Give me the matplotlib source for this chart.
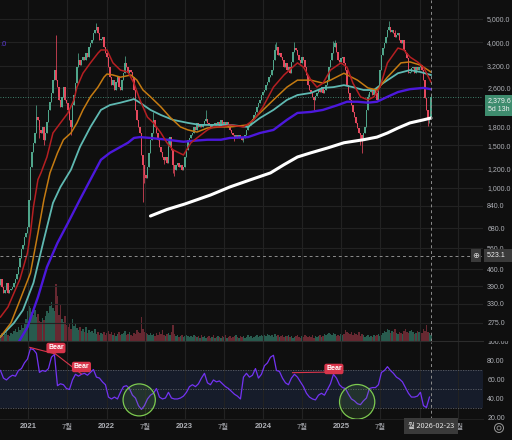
import numpy as np
import pandas as pd
import matplotlib
matplotlib.use("Agg")
import matplotlib.pyplot as plt
from matplotlib.patches import Ellipse
from matplotlib.ticker import FixedLocator, NullLocator, FuncFormatter
from matplotlib.transforms import Bbox, TransformedBbox, blended_transform_factory

plt.rcParams['font.family'] = ['Liberation Sans', 'Noto Sans CJK KR']

# weekly candles, first week 2020-08-24
start = pd.Timestamp('2020-08-24')
first_open = 395
closes = [
    418, 388, 366, 378, 403, 366, 378, 380, 388, 403,
    418, 437, 469, 510, 555, 580, 622, 649, 687, 893,
    1220, 1410, 1535, 1685, 1960, 1910, 1735, 1685, 1785, 1580,
    1685, 1870, 2100, 2270, 2470, 2790, 3070, 2790, 2610, 2310,
    2160, 2380, 2610, 2310, 2250, 2100, 1910, 1785, 2200, 2420,
    2710, 3160, 3380, 3220, 3380, 3480, 3380, 3610, 3480, 3820,
    3970, 4090, 4380, 4510, 4630, 4380, 4090, 4150, 4210, 3820,
    3610, 3480, 3160, 2870, 2660, 2790, 2540, 2740, 2870, 2610,
    2540, 2790, 2980, 3290, 3160, 2980, 3070, 3010, 2870, 2540,
    2100, 1910, 1785, 1685, 1370, 1245, 1132, 1100, 1220, 1395,
    1580, 1685, 1910, 1785, 1685, 1580, 1475, 1410, 1340, 1305,
    1340, 1265, 1475, 1620, 1435, 1245, 1187, 1245, 1265, 1220,
    1245, 1187, 1220, 1340, 1435, 1580, 1600, 1655, 1685, 1785,
    1735, 1855, 1785, 1820, 1785, 1840, 1890, 1930, 1855, 1820,
    1785, 1840, 1820, 1855, 1820, 1870, 1800, 1910, 1840, 1870,
    1800, 1870, 1785, 1735, 1685, 1655, 1620, 1655, 1600, 1655,
    1620, 1580, 1600, 1655, 1735, 1785, 1820, 1870, 1930, 2000,
    2060, 2160, 2250, 2310, 2420, 2500, 2540, 2660, 2740, 2870,
    2930, 3070, 3380, 3720, 3820, 3545, 3610, 3480, 3380, 3160,
    3290, 3070, 3160, 2980, 3320, 3650, 3790, 3720, 3545, 3380,
    3290, 3480, 3380, 3160, 2930, 2660, 2540, 2500, 2380, 2310,
    2400, 2470, 2540, 2500, 2610, 2470, 2540, 2660, 2790, 3160,
    3380, 3610, 3820, 3970, 3650, 3380, 3320, 3450, 3480, 3290,
    3070, 2660, 2470, 2310, 2200, 2060, 1960, 1855, 1770, 1685,
    1655, 1580, 1685, 1785, 2100, 2380, 2500, 2540, 2420, 2540,
    2470, 2310, 2610, 3070, 3545, 3790, 3970, 4210, 4510, 4630,
    4420, 4510, 4380, 4210, 4290, 4380, 4090, 3970, 4090, 3720,
    3610, 3450, 2980, 3010, 3130, 3160, 2980, 3160, 3070, 3160,
    3220, 3070, 2790, 2350, 2100, 1930, 1960, 2379.6,
]
wick_high = {24: 2200, 37: 4290, 52: 3600, 64: 4800, 83: 3520, 102: 2050,
             112: 1600, 137: 2100, 183: 3950, 184: 4000, 196: 4020,
             222: 4050, 223: 4100, 245: 2450, 259: 4900, 263: 4500, 287: 2450}
wick_low = {26: 1600, 29: 1500, 47: 1650, 95: 870, 96: 1050, 109: 1250,
            115: 1150, 116: 1120, 156: 1560, 162: 1540, 209: 2100,
            240: 1500, 241: 1395, 285: 1800, 286: 1850}
volumes = [
    6, 8, 5, 7, 9, 6, 5, 8, 7, 10,
    12, 9, 14, 11, 16, 13, 18, 22, 30, 35,
    33, 29, 26, 31, 24, 27, 20, 19, 23, 21,
    25, 30, 28, 35, 39, 33, 30, 57, 45, 26,
    36, 22, 19, 25, 16, 14, 18, 12, 22, 15,
    17, 13, 11, 14, 10, 12, 9, 14, 8, 11,
    9, 10, 8, 12, 7, 9, 6, 8, 7, 9,
    6, 8, 10, 7, 9, 6, 8, 5, 7, 9,
    6, 7, 8, 10, 6, 7, 9, 6, 5, 8,
    7, 11, 9, 8, 24, 12, 9, 8, 7, 6,
    8, 6, 7, 5, 8, 6, 9, 7, 11, 6,
    5, 7, 8, 6, 9, 16, 7, 5, 6, 4,
    5, 6, 4, 5, 6, 5, 4, 5, 4, 6,
    5, 4, 5, 3, 6, 4, 5, 3, 4, 5,
    3, 4, 6, 3, 4, 5, 4, 3, 5, 4,
    6, 3, 4, 5, 3, 4, 5, 6, 4, 3,
    5, 4, 5, 3, 4, 6, 4, 5, 3, 4,
    5, 6, 4, 5, 6, 5, 6, 5, 7, 6,
    5, 6, 4, 7, 5, 6, 4, 5, 6, 4,
    5, 5, 6, 4, 5, 3, 4, 5, 6, 4,
    3, 5, 4, 6, 5, 4, 5, 4, 6, 3,
    5, 4, 5, 6, 4, 5, 7, 6, 7, 8,
    7, 6, 8, 7, 5, 6, 5, 7, 6, 7,
    11, 9, 8, 7, 9, 6, 8, 7, 6, 9,
    5, 7, 6, 4, 5, 6, 4, 5, 4, 6,
    5, 6, 7, 5, 6, 8, 10, 9, 12, 11,
    8, 10, 9, 12, 8, 7, 9, 8, 7, 10,
    12, 9, 8, 10, 11, 9, 7, 8, 10, 9,
    11, 8, 12, 10, 16, 9, 8, 6,
]

# moving averages (week index, value)
red_idx = [0, 5, 9, 13, 18, 20, 22, 25, 27, 31, 35, 40, 45, 49, 51, 55, 60, 65, 67, 71,
           75, 80, 85, 89, 93, 98, 102, 107, 111, 115, 122, 127, 131, 138, 142, 147, 153,
           162, 169, 175, 182, 189, 198, 202, 207, 211, 215, 220, 227, 231, 235, 240, 245,
           249, 253, 258, 265, 269, 273, 278, 282, 287]
red_val = [291, 320, 366, 418, 536, 649, 832, 1080, 1151, 1340, 1685, 1855, 2040, 2310,
           2610, 2980, 3290, 3610, 3720, 3720, 3290, 3070, 3015, 2710, 2310, 1960, 1855,
           1685, 1535, 1435, 1366, 1535, 1607, 1735, 1785, 1785, 1820, 1785, 1910, 2160,
           2610, 2930, 3290, 3160, 2790, 2610, 2710, 3070, 3290, 3160, 2710, 2380, 2310,
           2380, 2610, 3290, 3790, 3720, 3480, 3320, 3160, 2740]
orange_idx = [0, 7, 13, 20, 25, 29, 33, 38, 42, 47, 51, 55, 60, 65, 69, 71, 75, 80, 87,
              91, 95, 100, 107, 113, 120, 125, 131, 138, 147, 153, 165, 173, 182, 191,
              198, 207, 215, 220, 229, 238, 245, 251, 258, 267, 273, 280, 287]
orange_val = [241, 275, 342, 443, 649, 893, 1151, 1392, 1580, 1685, 1855, 2100, 2380,
              2610, 2870, 2958, 2930, 2870, 2930, 2790, 2540, 2380, 2160, 1960, 1785,
              1735, 1700, 1767, 1785, 1785, 1820, 2040, 2310, 2610, 2790, 2790, 2710,
              2790, 2980, 2790, 2590, 2540, 2870, 3290, 3320, 3220, 3015]
teal_idx = [0, 9, 15, 22, 29, 35, 40, 47, 53, 60, 67, 73, 80, 87, 89, 93, 100, 107, 115,
            125, 133, 147, 153, 165, 173, 182, 191, 198, 207, 215, 222, 229, 235, 242,
            249, 255, 265, 273, 280, 287]
teal_val = [241, 275, 311, 403, 611, 864, 1007, 1187, 1475, 1785, 2100, 2200, 2250, 2310,
            2330, 2250, 2100, 2000, 1910, 1855, 1820, 1820, 1820, 1785, 1944, 2100, 2310,
            2420, 2470, 2590, 2610, 2660, 2610, 2540, 2540, 2710, 2980, 3070, 3015, 2930]
purple_idx = [8, 13, 18, 25, 31, 38, 45, 53, 60, 67, 73, 80, 85, 89, 93, 100, 111, 122,
              129, 138, 147, 153, 165, 173, 182, 191, 198, 207, 215, 225, 231, 238, 245,
              251, 258, 265, 273, 282, 287]
purple_val = [205, 234, 264, 352, 469, 590, 714, 893, 1080, 1305, 1395, 1475, 1535, 1607,
              1620, 1607, 1580, 1550, 1565, 1580, 1580, 1607, 1620, 1685, 1735, 1910, 2040,
              2060, 2100, 2200, 2270, 2270, 2250, 2270, 2380, 2490, 2560, 2590, 2560]
white_idx = [100, 111, 123, 140, 153, 167, 180, 189, 198, 207, 218, 229, 242, 251, 258,
             265, 273, 282, 287]
white_val = [763, 812, 856, 932, 1007, 1080, 1151, 1245, 1340, 1395, 1460, 1535, 1580,
             1620, 1685, 1767, 1855, 1910, 1944]

# RSI, every second week
rsi = [
    70, 62, 60, 63, 65, 64, 70, 72, 78, 82,
    93, 92, 88, 68, 70, 69, 72, 84, 87, 54,
    56, 55, 51, 50, 60, 66, 64, 66, 67, 65,
    68, 71, 63, 62, 58, 55, 42, 40, 42, 40,
    47, 53, 54, 51, 44, 41, 33, 29, 33, 40,
    44, 46, 51, 42, 40, 41, 47, 41, 40, 40,
    41, 43, 47, 53, 55, 53, 56, 62, 67, 57,
    55, 60, 58, 59, 56, 53, 51, 48, 45, 43,
    40, 63, 67, 63, 65, 72, 62, 66, 75, 78,
    84, 86, 70, 69, 62, 57, 55, 62, 66, 63,
    58, 53, 46, 42, 40, 39, 44, 46, 44, 50,
    56, 66, 62, 55, 52, 51, 45, 40, 38, 35,
    34, 38, 41, 51, 52, 52, 55, 68, 70, 74,
    70, 67, 63, 61, 58, 52, 46, 42, 42, 43,
    47, 33, 31, 42,
]

# 2,200 and 2026 sit under the price / date boxes, so they get grid lines only
price_ticks = [275, 330, 390, 460, 560, 680, 840, 1000, 1200, 1500, 1800, 2200, 2600, 3200, 4000, 5000]
hidden_price_ticks = [2200]
rsi_ticks = [20, 40, 60, 80, 100]
tick_dates = ['2021-01-01', '2021-07-01', '2022-01-01', '2022-07-01', '2023-01-01',
              '2023-07-01', '2024-01-01', '2024-07-01', '2025-01-01', '2025-07-01',
              '2026-01-01', '2026-07-01']
tick_labels = ['2021', '7월', '2022', '7월', '2023', '7월', '2024', '7월', '2025', '7월', '', '7월']
cross_week, cross_price, cross_label = 287, 523.1, '월 2026-02-23'
bear_lines = [((19.5, 94.4), (36.7, 87.4)), ((36.7, 87.4), (54, 66.3)), ((194.7, 67.7), (223.3, 68.4))]
bear_marks = [(37, 93.7), (54, 73.7), (222.3, 71.6)]
circles = [(92.5, 39.0, 21.5, 33.7), (237.8, 37.0, 23.5, 36.5)]

BG = '#0f0f0f'
GRID = '#222222'
TXT = '#aeb0b6'
UP = '#4fa58a'
DN = '#e5485d'
KR = ['Noto Sans CJK KR', 'DejaVu Sans']

close = np.array(closes, float)
n = len(close)
idx = np.arange(n)
opn = np.r_[first_open, close[:-1]]
high = np.maximum(opn, close)
low = np.minimum(opn, close)
for k, v in wick_high.items():
    high[k] = v
for k, v in wick_low.items():
    low[k] = v
up = close >= opn
cols = np.where(up, UP, DN)

W, H = 512, 440
fig = plt.figure(figsize=(W / 100, H / 100), dpi=100, facecolor=BG)
rect_p = [0, 1 - 341 / H, 483 / W, 341 / H]
axv = fig.add_axes(rect_p)
axv.set_facecolor(BG)
axv.set_zorder(0)
ax = fig.add_axes(rect_p, sharex=axv)
ax.set_zorder(1)
ax.patch.set_visible(False)
axr = fig.add_axes([0, 1 - 419 / H, 483 / W, 77 / H], sharex=axv)
axr.set_facecolor(BG)

tick_pos = [(pd.Timestamp(d) - start).days / 7 for d in tick_dates]

# volume
vol = np.array(volumes, float)
vcols = np.where(up, '#2f6f5e', '#7e2f3a')
axv.bar(idx, vol, width=0.75, color=vcols, alpha=0.8, linewidth=0)
axv.set_ylim(-0.4, vol.max() * 6)
axv.axis('off')

# candles
ax.vlines(idx, low, high, colors=cols, lw=0.55, zorder=3)
ax.bar(idx, np.abs(close - opn) + 1e-6, bottom=np.minimum(opn, close), width=0.8,
       color=cols, linewidth=0, zorder=3)

ax.plot(white_idx, white_val, color='#ffffff', lw=2.2, zorder=5, solid_capstyle='round')
ax.plot(purple_idx, purple_val, color='#4c18dc', lw=1.7, zorder=5)
ax.plot(teal_idx, teal_val, color='#5fb9b2', lw=1.3, zorder=5)
ax.plot(orange_idx, orange_val, color='#c57b12', lw=1.1, zorder=5)
ax.plot(red_idx, red_val, color='#b51f22', lw=1.1, zorder=5)

ax.set_yscale('log')
ax.set_ylim(231.5, 5994)
ax.set_xlim(-0.3, 321.7)
ax.yaxis.set_major_locator(FixedLocator(price_ticks))
ax.yaxis.set_minor_locator(NullLocator())
ax.yaxis.set_major_formatter(FuncFormatter(
    lambda v, p: '' if round(v) in hidden_price_ticks else f'{v:,.1f}'))
ax.yaxis.tick_right()
ax.tick_params(axis='y', length=0, pad=3, labelsize=5, labelcolor=TXT)
ax.set_xticks(tick_pos)
ax.tick_params(axis='x', length=0, labelbottom=False)
ax.grid(True, color=GRID, lw=0.8)
ax.set_axisbelow(True)
for s in ax.spines.values():
    s.set_visible(False)
ax.spines['bottom'].set_visible(True)
ax.spines['bottom'].set_color('#2c2c2c')

# current price and crosshair
blend_p = blended_transform_factory(ax.transAxes, ax.transData)
ax.axhline(close[-1], color=UP, ls=(0, (1, 2)), lw=0.6, zorder=4)
ax.axhline(cross_price, color='#8c8c8c', ls=(0, (3, 3)), lw=0.7, zorder=6)
ax.axvline(cross_week, color='#8c8c8c', ls=(0, (3, 3)), lw=0.7, zorder=6)
ax.annotate(f'{close[-1]:,.1f}\n5d 13h', xy=(1, close[-1]), xycoords=blend_p,
            xytext=(5, -0.5), textcoords='offset pixels', ha='left', va='top',
            fontsize=5, color='#f0f0f0', linespacing=1.3, annotation_clip=False, zorder=10,
            bbox=dict(boxstyle='square,pad=0.4', fc='#3e8c6e', ec='none'))
ax.text(1 + 4 / 483, cross_price, f'{cross_price:,.1f}   ', transform=blend_p, ha='left',
        va='center', fontsize=5, color='#f0f0f0', clip_on=False, zorder=10,
        bbox=dict(boxstyle='square,pad=0.45', fc='#3a3a3a', ec='none'))
ax.text(476 / 483, cross_price, '⊕', transform=blend_p, ha='center', va='center',
        fontsize=6, family='DejaVu Sans', color='#d8d8d8', zorder=10,
        bbox=dict(boxstyle='square,pad=0.2', fc='#3a3a3a', ec='none'))

# RSI pane
axr.axhspan(30, 70, color='#161c2a', lw=0, zorder=0)
for lvl in (70, 50, 30):
    axr.axhline(lvl, color='#5c5f68', ls=(0, (1.5, 1.5)), lw=0.6, zorder=1)
rsi_idx = np.arange(0, 2 * len(rsi), 2)
axr.plot(rsi_idx, rsi, color='#7333f2', lw=0.9, zorder=3)
for (x0, y0), (x1, y1) in bear_lines:
    axr.plot([x0, x1], [y0, y1], color='#d8354b', lw=0.8, zorder=4)
for bx, by in bear_marks:
    axr.text(bx, by, 'Bear', ha='center', va='center', fontsize=5, fontweight='bold',
             color='white', zorder=6,
             bbox=dict(boxstyle='round,pad=0.25,rounding_size=0.3', fc='#d8354b', ec='none'))
for cx, cy, w, h in circles:
    axr.add_patch(Ellipse((cx, cy), w, h, fc=(0.45, 0.78, 0.3, 0.13), ec='#7dca50',
                          lw=0.9, zorder=5))
axr.axvline(cross_week, color='#8c8c8c', ls=(0, (3, 3)), lw=0.7, zorder=6)
axr.set_ylim(18.9, 100)
axr.set_yticks(rsi_ticks)
axr.yaxis.set_major_formatter(FuncFormatter(lambda v, p: f'{v:.2f}'))
axr.yaxis.tick_right()
axr.tick_params(axis='y', length=0, pad=3, labelsize=5, labelcolor=TXT)
axr.set_xticks(tick_pos, tick_labels)
axr.tick_params(axis='x', length=0, pad=3, labelsize=5.5, labelcolor=TXT, labelbottom=True)
for lbl in axr.get_xticklabels():
    if lbl.get_text().isdigit():
        lbl.set_fontweight('bold')
    else:
        lbl.set_family(KR)
axr.grid(True, axis='x', color=GRID, lw=0.8)
axr.set_axisbelow(True)
for s in axr.spines.values():
    s.set_visible(False)
axr.spines['bottom'].set_visible(True)
axr.spines['bottom'].set_color('#202020')
clip = TransformedBbox(Bbox([[0, 20 / H], [1, 1 - 341 / H]]), fig.transFigure)
for lbl in axr.get_yticklabels():
    lbl.set_clip_box(clip)
    lbl.set_clip_on(True)

blend_r = blended_transform_factory(axr.transData, axr.transAxes)
axr.text(cross_week, -7 / 77, cross_label, transform=blend_r, ha='center', va='center',
         fontsize=5.3, family=KR, color='#e6e6e6', clip_on=False, zorder=10,
         bbox=dict(boxstyle='square,pad=0.5', fc='#3a3a3a', ec='none'))

fig.text(0.001, 1 - 44 / H, '.0', color='#5a3ad0', fontsize=5.5, va='center', ha='left')
fig.add_artist(Ellipse((499 / W, 1 - 428 / H), 9 / W, 9 / H, transform=fig.transFigure,
                       fill=False, ec='#9a9a9a', lw=0.7))
fig.add_artist(Ellipse((499 / W, 1 - 428 / H), 4 / W, 4 / H, transform=fig.transFigure,
                       fill=False, ec='#9a9a9a', lw=0.6))

fig.savefig('out.png', dpi=100, facecolor=BG)
